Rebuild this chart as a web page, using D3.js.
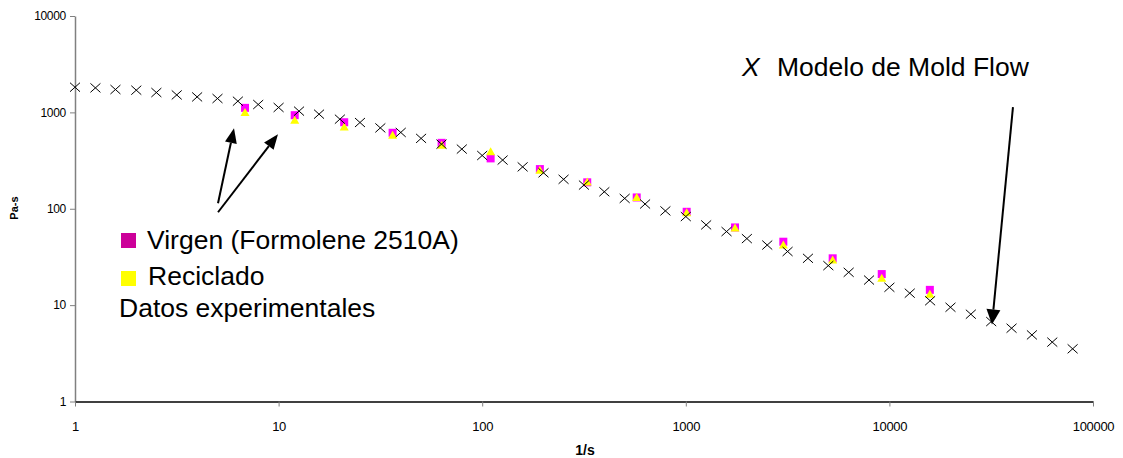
<!DOCTYPE html>
<html lang="es">
<head>
<meta charset="UTF-8">
<title>Viscosidad - Modelo de Mold Flow</title>
<script src="https://d3js.org/d3.v7.min.js"></script>
<style>
    body { margin: 0; background: #fff; }
    svg { font-family: "Liberation Sans", Arial, sans-serif; }
    .xaxis .domain { stroke: #000; stroke-width: 1.5px; }
    .yaxis .domain { stroke: #808080; stroke-width: 1.5px; }
    .tick line { stroke: #808080; }
    .tick text { fill: #000; }
    .note { font-size: 26.5px; fill: #000; }
</style>
</head>
<body>
<div id="chart"></div>
<script>
    // Modelo de Mold Flow (shear rate 1/s, viscosity Pa-s)
    const modelRate = [1, 1.26, 1.58, 2, 2.51, 3.16, 3.98, 5.01, 6.31, 7.94,
        10, 12.6, 15.8, 20, 25.1, 31.6, 39.8, 50.1, 63.1, 79.4,
        100, 126, 158, 200, 251, 316, 398, 501, 631, 794,
        1000, 1259, 1585, 1995, 2512, 3162, 3981, 5012, 6310, 7943,
        10000, 12589, 15849, 19953, 25119, 31623, 39811, 50119, 63096, 79433];
    const modelVisc = [1824, 1795, 1727, 1699, 1607, 1517, 1447, 1393, 1306, 1207,
        1124, 1030, 958, 850, 785, 690, 619, 537, 468, 416,
        357, 320, 272, 236, 202, 176, 150, 128, 112, 95,
        83, 68, 58, 49, 42, 36, 30.6, 25.7, 21.9, 18.2,
        15.3, 13.3, 11.1, 9.5, 8.05, 6.75, 5.76, 4.91, 4.13, 3.52];

    // Datos experimentales
    const expRate = [6.84, 12, 21, 36.3, 63.2, 110, 192, 328, 574, 1010, 1745, 3013, 5265, 9170, 15800];
    const virgenVisc = [1114, 935, 790, 614, 483, 333, 258, 188, 131, 93, 64, 45.5, 30.6, 21, 14.4];
    const recicladoVisc = [998, 830, 705, 580, 457, 390, 251, 190, 131, 91, 63, 42, 29.4, 19, 13];

    const xTicks = [1, 10, 100, 1000, 10000, 100000];
    const yTicks = [1, 10, 100, 1000, 10000];

    // annotation arrows, in data coordinates [from, to]
    const arrows = [
        [[5.04, 114], [6.04, 686]],
        [[5.04, 92], [9.93, 594]],
        [[40450, 1132], [31900, 6.3]]
    ];

    const W = 1123, H = 458;
    const svg = d3.select("#chart").append("svg")
        .attr("width", W)
        .attr("height", H);

    const x = d3.scaleLog().domain([1, 100000]).range([75, 1093]);
    const y = d3.scaleLog().domain([1, 10000]).range([401.5, 16]);

    // axes
    svg.append("g")
        .attr("class", "yaxis")
        .attr("transform", "translate(75,0)")
        .call(d3.axisLeft(y).tickValues(yTicks).tickFormat(d3.format("d"))
            .tickSize(5).tickSizeOuter(0).tickPadding(4))
        .selectAll(".tick text")
        .style("font-size", "12px")
        .style("letter-spacing", "-0.3px");

    svg.append("g")
        .attr("class", "xaxis")
        .attr("transform", "translate(0,401.5)")
        .call(d3.axisBottom(x).tickValues(xTicks).tickFormat(d3.format("d"))
            .tickSize(5).tickSizeOuter(0).tickPadding(15))
        .selectAll(".tick text")
        .style("font-size", "13px")
        .style("letter-spacing", "-0.3px");

    svg.append("text")
        .attr("transform", "translate(18,208) rotate(-90)")
        .attr("text-anchor", "middle")
        .style("font-size", "11px")
        .style("font-weight", "bold")
        .text("Pa-s");

    svg.append("text")
        .attr("x", 585)
        .attr("y", 455)
        .attr("text-anchor", "middle")
        .style("font-size", "14px")
        .style("font-weight", "bold")
        .text("1/s");

    const exp = expRate.map((r, i) => ({ r, v: virgenVisc[i], c: recicladoVisc[i] }));

    // virgen squares
    svg.append("g")
        .selectAll("rect")
        .data(exp)
        .enter().append("rect")
        .attr("x", d => x(d.r) - 4)
        .attr("y", d => y(d.v) - 4)
        .attr("width", 8)
        .attr("height", 8)
        .attr("fill", "#ff00ff");

    // reciclado triangles
    svg.append("g")
        .selectAll("path")
        .data(exp)
        .enter().append("path")
        .attr("transform", d => `translate(${x(d.r)},${y(d.c)})`)
        .attr("d", "M0,-4.5L4.5,3.5L-4.5,3.5Z")
        .attr("fill", "#ffff00");

    // model crosses
    svg.append("g")
        .selectAll("path")
        .data(modelRate.map((r, i) => ({ r, v: modelVisc[i] })))
        .enter().append("path")
        .attr("transform", d => `translate(${x(d.r)},${y(d.v)})`)
        .attr("d", "M-5,-4.5L5,4.5M5,-4.5L-5,4.5")
        .attr("stroke", "#000")
        .attr("stroke-width", 1)
        .attr("fill", "none");

    // arrows
    const ag = svg.append("g");
    arrows.forEach(([a, b], i) => {
        const x1 = x(a[0]), y1 = y(a[1]), x2 = x(b[0]), y2 = y(b[1]);
        const ang = Math.atan2(y2 - y1, x2 - x1);
        const len = 15, half = i === 2 ? 7 : 6;
        const bx = x2 - len * Math.cos(ang), by = y2 - len * Math.sin(ang);
        ag.append("line")
            .attr("x1", x1).attr("y1", y1)
            .attr("x2", bx).attr("y2", by)
            .attr("stroke", "#000")
            .attr("stroke-width", 2);
        const px = -Math.sin(ang) * half, py = Math.cos(ang) * half;
        ag.append("path")
            .attr("d", `M${x2},${y2}L${bx + px},${by + py}L${bx - px},${by - py}Z`)
            .attr("fill", "#000");
    });

    // legend / notes
    svg.append("rect").attr("x", 121).attr("y", 233).attr("width", 15).attr("height", 15).attr("fill", "#cc0099");
    svg.append("rect").attr("x", 121).attr("y", 271).attr("width", 15).attr("height", 15).attr("fill", "#ffff00");

    svg.append("text").attr("class", "note").attr("x", 147).attr("y", 249).text("Virgen (Formolene 2510A)");
    svg.append("text").attr("class", "note").attr("x", 148).attr("y", 285).text("Reciclado");
    svg.append("text").attr("class", "note").attr("x", 119).attr("y", 317).text("Datos experimentales");

    svg.append("text").attr("class", "note").attr("x", 742).attr("y", 76)
        .style("font-style", "italic").text("X");
    svg.append("text").attr("class", "note").attr("x", 777).attr("y", 76).text("Modelo de Mold Flow");
</script>
</body>
</html>
